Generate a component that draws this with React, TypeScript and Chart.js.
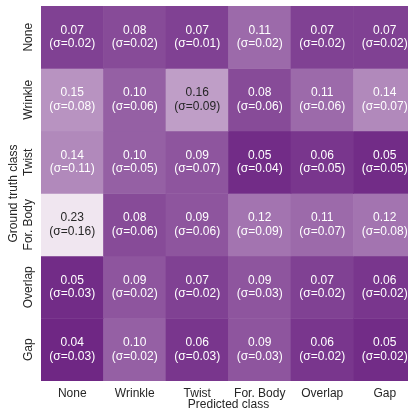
import React, { useEffect, useRef } from "react";
import { Chart, registerables } from "chart.js";

Chart.register(...registerables);

const predictedClasses = ["None", "Wrinkle", "Twist", "For. Body", "Overlap", "Gap"];
const truthClasses = ["None", "Wrinkle", "Twist", "For. Body", "Overlap", "Gap"];

const meanNone = [0.07, 0.08, 0.07, 0.11, 0.07, 0.07];
const meanWrinkle = [0.15, 0.10, 0.16, 0.08, 0.11, 0.14];
const meanTwist = [0.14, 0.10, 0.09, 0.05, 0.06, 0.05];
const meanForBody = [0.23, 0.08, 0.09, 0.12, 0.11, 0.12];
const meanOverlap = [0.05, 0.09, 0.07, 0.09, 0.07, 0.06];
const meanGap = [0.04, 0.10, 0.06, 0.09, 0.06, 0.05];

const stdNone = [0.02, 0.02, 0.01, 0.02, 0.02, 0.02];
const stdWrinkle = [0.08, 0.06, 0.09, 0.06, 0.06, 0.07];
const stdTwist = [0.11, 0.05, 0.07, 0.04, 0.05, 0.05];
const stdForBody = [0.16, 0.06, 0.06, 0.09, 0.07, 0.08];
const stdOverlap = [0.03, 0.02, 0.02, 0.03, 0.02, 0.02];
const stdGap = [0.03, 0.02, 0.03, 0.03, 0.02, 0.02];

const means = [meanNone, meanWrinkle, meanTwist, meanForBody, meanOverlap, meanGap];
const stds = [stdNone, stdWrinkle, stdTwist, stdForBody, stdOverlap, stdGap];

const VMIN = 0.045;
const VMAX = 0.23;
const DARK = [111, 39, 132];
const LIGHT = [240, 230, 240];

function colorFor(v: number): string {
  let t = (v - VMIN) / (VMAX - VMIN);
  t = Math.max(0, Math.min(1, t));
  const c = DARK.map((d, i) => Math.round(d + (LIGHT[i] - d) * t));
  return `rgb(${c[0]},${c[1]},${c[2]})`;
}

const FONT = "'Liberation Sans', Arial, sans-serif";
const TEXT = "#262626";

const cellLabels = {
  id: "cellLabels",
  afterDatasetsDraw(chart: any) {
    const ctx = chart.ctx;
    ctx.save();
    ctx.font = `12px ${FONT}`;
    ctx.textAlign = "center";
    ctx.textBaseline = "middle";
    means.forEach((row, r) => {
      const meta = chart.getDatasetMeta(r);
      row.forEach((v, c) => {
        const el: any = meta.data[c];
        const cx = el.x;
        const cy = (el.y + el.base) / 2;
        ctx.fillStyle = v > 0.155 ? TEXT : "#ffffff";
        ctx.fillText(v.toFixed(2), cx, cy - 7);
        ctx.fillText(`(σ=${stds[r][c].toFixed(2)})`, cx, cy + 6.5);
      });
    });
    // y tick labels
    const ys = chart.scales.y;
    ctx.fillStyle = TEXT;
    truthClasses.forEach((name, r) => {
      const y = ys.getPixelForValue(r + 0.5);
      ctx.save();
      ctx.translate(29, y);
      ctx.rotate(-Math.PI / 2);
      ctx.fillText(name, 0, 0);
      ctx.restore();
    });
    // y title
    const area = chart.chartArea;
    ctx.save();
    ctx.translate(13.5, (area.top + area.bottom) / 2);
    ctx.rotate(-Math.PI / 2);
    ctx.fillText("Ground truth class", 0, 0);
    ctx.restore();
    ctx.restore();
  },
};

export default function App() {
  const ref = useRef<HTMLCanvasElement | null>(null);
  useEffect(() => {
    if (!ref.current) return;
    const datasets = means.map((row, r) => ({
      label: truthClasses[r],
      data: row.map(() => [r, r + 1]),
      backgroundColor: row.map((v) => colorFor(v)),
      borderWidth: 0,
      barPercentage: 1,
      categoryPercentage: 1,
      grouped: false,
    }));
    const chart = new Chart(ref.current, {
      type: "bar",
      data: { labels: predictedClasses, datasets: datasets as any },
      options: {
        animation: false,
        responsive: false,
        layout: { padding: { left: 41, top: 6, right: 0, bottom: 0 } },
        plugins: { legend: { display: false }, tooltip: { enabled: false } },
        scales: {
          x: {
            grid: { display: false, drawTicks: false },
            border: { display: false },
            ticks: { color: TEXT, font: { family: FONT, size: 12 }, padding: 5 },
            title: {
              display: true,
              text: "Predicted class",
              color: TEXT,
              font: { family: FONT, size: 12, lineHeight: 1 },
              padding: { top: 0, bottom: 0 },
            },
            afterFit: (s: any) => {
              s.height = 30;
            },
          },
          y: {
            type: "linear",
            min: 0,
            max: 6,
            reverse: true,
            display: false,
          },
        },
      },
      plugins: [cellLabels],
    });
    return () => chart.destroy();
  }, []);
  return (
    <div style={{ position: "absolute", left: 0, top: 0, width: 408, height: 411, overflow: "hidden", background: "#fff" }}>
      <canvas ref={ref} width={416} height={411} style={{ display: "block" }} />
    </div>
  );
}
